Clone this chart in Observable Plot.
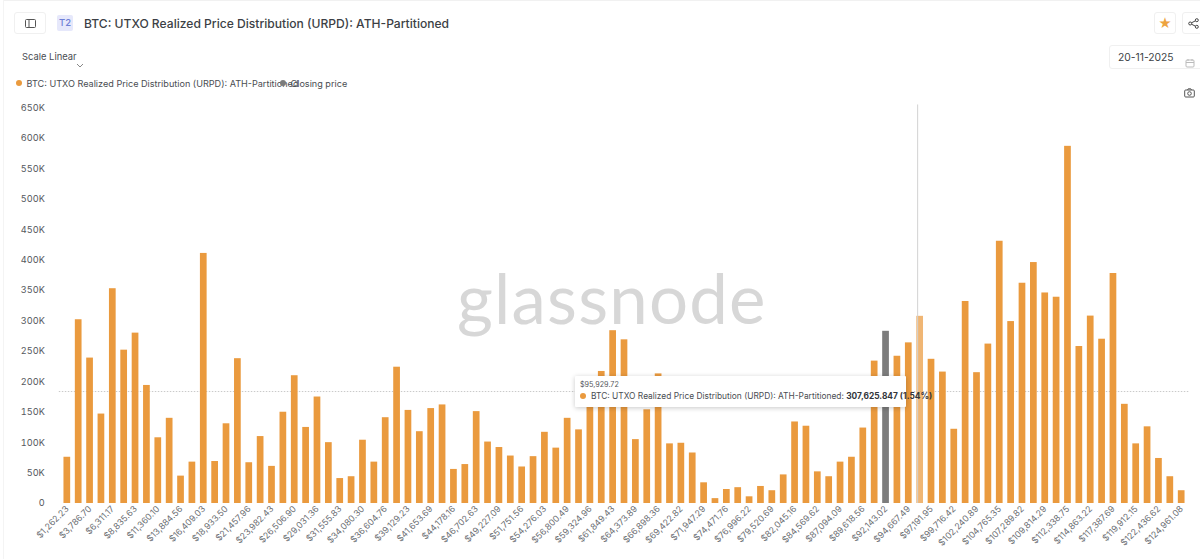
<!DOCTYPE html>
<html>
<head>
<meta charset="utf-8">
<script src="https://cdn.jsdelivr.net/npm/d3@7"></script>
<script src="https://cdn.jsdelivr.net/npm/@observablehq/plot@0.6"></script>
<style>
html,body{margin:0;padding:0;background:#fff;width:1200px;height:559px;overflow:hidden;font-family:Inter,"Noto Sans",sans-serif;color:#3c3f45}
#page{position:relative;width:1200px;height:559px}
#page>div{position:absolute;white-space:nowrap}
.btn{border:1px solid #f0f0f0;border-radius:3px;box-sizing:border-box;display:flex;align-items:center;justify-content:center;background:#fff}
#chart{left:0;top:95px}
#chart svg{display:block;background:transparent}
.dot{display:inline-block;width:6px;height:6px;border-radius:50%;vertical-align:1px;margin-right:2px}
</style>
</head>
<body>
<div id="page">
  <div style="left:3px;top:0;width:1197px;height:1px;background:#f1f1f1"></div>
  <div style="left:3px;top:0;width:1px;height:559px;background:#f4f4f4"></div>
  <div class="btn" style="left:14px;top:12px;width:32px;height:22px">
    <svg width="11" height="9" viewBox="0 0 11 9"><rect x=".5" y=".5" width="10" height="8" rx="1" fill="none" stroke="#555"/><path d="M4 .5v8" stroke="#555"/></svg>
  </div>
  <div style="left:57px;top:15px;width:16px;height:16px;background:#e6e8fb;border-radius:2px;color:#6f7fd6;font-size:9.5px;line-height:16px;text-align:center;font-weight:500">T2</div>
  <div style="left:84px;top:14.5px;font-size:12.1px;line-height:17px;font-weight:500;color:#3c3f45">BTC: UTXO Realized Price Distribution (URPD): ATH-Partitioned</div>
  <div style="left:22px;top:50px;font-size:9.4px;line-height:14px;color:#4a4d52">Scale Linear</div>
  <div style="left:76px;top:53px"><svg width="8" height="6" viewBox="0 0 8 6"><path d="M1 1l3 3 3-3" fill="none" stroke="#888"/></svg></div>
  <div style="left:16px;top:77px;font-size:9.1px;line-height:14px;color:#4a4d52"><span class="dot" style="background:#ea9a3e"></span> BTC: UTXO Realized Price Distribution (URPD): ATH-Partitioned</div>
  <div style="left:280px;top:77px;font-size:9.1px;line-height:14px;color:#4a4d52"><span class="dot" style="background:#7c7c7c"></span> Closing price</div>
  <div class="btn" style="left:1154px;top:12px;width:22px;height:22px;color:#eda33f;font-size:13px;line-height:22px">★</div>
  <div class="btn" style="left:1182px;top:12px;width:22px;height:22px">
    <svg width="11" height="11" viewBox="0 0 11 11"><circle cx="2.2" cy="5.5" r="1.5" fill="none" stroke="#444"/><circle cx="8.8" cy="2.2" r="1.5" fill="none" stroke="#444"/><circle cx="8.8" cy="8.8" r="1.5" fill="none" stroke="#444"/><path d="M3.5 4.8l4-2M3.5 6.2l4 2" stroke="#444"/></svg>
  </div>
  <div class="btn" style="left:1109px;top:45px;width:95px;height:24px;justify-content:flex-start;padding-left:8px;font-size:10.3px;color:#3c3f45">20-11-2025</div>
  <div style="left:1185px;top:52px"><svg width="10" height="10" viewBox="0 0 10 10"><rect x="1" y="2" width="8" height="7" rx="1" fill="none" stroke="#bbb"/><path d="M1 4.5h8M3 1v2M7 1v2" stroke="#bbb"/></svg></div>
  <div style="left:1184px;top:82px"><svg width="11" height="10" viewBox="0 0 11 10"><rect x=".7" y="2" width="9.6" height="7" rx="1" fill="none" stroke="#555"/><circle cx="5.5" cy="5.5" r="1.8" fill="none" stroke="#555"/><path d="M3.5 2l.7-1.2h2.6L7.5 2" fill="none" stroke="#555"/></svg></div>

  <div id="chart"></div>

  <div style="left:457px;top:258px;font-family:Lato,Inter,sans-serif;font-size:69px;line-height:80px;color:rgba(205,205,205,.8);letter-spacing:1.2px;pointer-events:none">glassnode</div>

  <div style="left:575px;top:376px;width:331px;height:31px;background:#fff;box-shadow:0 1px 5px rgba(0,0,0,.22);border-radius:1px">
    <div style="position:absolute;left:5px;top:4px;font-size:7.2px;line-height:10px;color:#55585d">$95,929.72</div>
    <div style="position:absolute;left:5px;top:14px;font-size:8.4px;line-height:12px;color:#4a4d52;white-space:nowrap"><span class="dot" style="background:#ea9a3e;margin-right:5px;vertical-align:0"></span>BTC: UTXO Realized Price Distribution (URPD): ATH-Partitioned: <b style="color:#33363b;font-weight:700">307,625.847 (1.54%)</b></div>
  </div>
</div>
<script>
// Price bucket labels (x categories), lowest bucket upward
const priceLabels = [
"$1,262.23","$2,524.47","$3,786.70","$5,048.93","$6,311.17","$7,573.40","$8,835.63","$10,097.87","$11,360.10","$12,622.33",
"$13,884.56","$15,146.80","$16,409.03","$17,671.26","$18,933.50","$20,195.73","$21,457.96","$22,720.20","$23,982.43","$25,244.66",
"$26,506.90","$27,769.13","$29,031.36","$30,293.60","$31,555.83","$32,818.06","$34,080.30","$35,342.53","$36,604.76","$37,867.00",
"$39,129.23","$40,391.46","$41,653.69","$42,915.93","$44,178.16","$45,440.39","$46,702.63","$47,964.86","$49,227.09","$50,489.33",
"$51,751.56","$53,013.79","$54,276.03","$55,538.26","$56,800.49","$58,062.73","$59,324.96","$60,587.19","$61,849.43","$63,111.66",
"$64,373.89","$65,636.13","$66,898.36","$68,160.59","$69,422.82","$70,685.06","$71,947.29","$73,209.52","$74,471.76","$75,733.99",
"$76,996.22","$78,258.46","$79,520.69","$80,782.92","$82,045.16","$83,307.39","$84,569.62","$85,831.86","$87,094.09","$88,356.32",
"$89,618.56","$90,880.79","$92,143.02","$93,405.25","$94,667.49","$95,929.72","$97,191.95","$98,454.19","$99,716.42","$100,978.65",
"$102,240.89","$103,503.12","$104,765.35","$106,027.59","$107,289.82","$108,552.05","$109,814.29","$111,076.52","$112,338.75","$113,600.99",
"$114,863.22","$116,125.45","$117,387.69","$118,649.92","$119,912.15","$121,174.38","$122,436.62","$123,698.85","$124,961.08"];

// Supply per bucket
const supply = [
76000,302000,239000,147000,353000,252000,280000,194000,108000,140000,
45000,68000,411000,69000,131000,238000,67000,110000,61000,150000,
210000,125000,175000,100000,41000,44000,104000,68000,141000,224000,
153000,118000,156000,162000,56000,64000,151000,101000,92000,78000,
60000,77000,117000,91000,140000,121000,165000,217000,284000,269000,
105000,154000,213000,98000,99000,83000,34000,8000,23000,26000,
11000,28000,21000,47000,134000,127000,52000,44000,68000,76000,
124000,234000,283000,242000,264000,307626,237000,216000,122000,332000,
215000,262000,431000,299000,362000,396000,346000,339000,587000,258000,
308000,270000,378000,163000,98000,126000,74000,44000,21000];

const tickLabels = priceLabels.filter((_, i) => i % 2 === 0);
const yTicks = [0,50000,100000,150000,200000,250000,300000,350000,400000,450000,500000,550000,600000,650000];
const seriesNames = ["BTC: UTXO Realized Price Distribution (URPD): ATH-Partitioned","Closing price"];
const closingBucket = "$92,143.02";
const hoveredBucket = "$95,929.72";
const crosshairValue = 184000;

const table = priceLabels.map((price, i) => ({
  price, value: supply[i],
  series: price === closingBucket ? seriesNames[1] : seriesNames[0],
  alpha: price === hoveredBucket ? 0.72 : 1
}));

const plot = Plot.plot({
  width: 1200, height: 464,
  marginTop: 12.5, marginBottom: 56, marginLeft: 58.8, marginRight: 10.8,
  style: {background: "transparent", fontFamily: "Inter, sans-serif"},
  x: {type: "band", domain: priceLabels, padding: 0.41, align: 0.5},
  y: {domain: [0, 650000]},
  color: {domain: seriesNames, range: ["#ea9a3e", "#7c7c7c"]},
  marks: [
    Plot.gridY(yTicks, {stroke: "#f0f0f0", strokeOpacity: 1, x1: 48, x2: 1190}),
    Plot.ruleY([crosshairValue], {stroke: "#c9c9c9", strokeDasharray: "1.5,1.5", strokeWidth: 1}),
    Plot.barY(table, {x: "price", y: "value", fill: "series", fillOpacity: "alpha"}),
    Plot.ruleX([hoveredBucket], {stroke: "#d2d2d2", strokeWidth: 1, dx: -2.5, y1: 0, y2: 655000}),
    Plot.axisY({ticks: yTicks, tickFormat: d => d === 0 ? "0" : (d / 1000) + "K", tickSize: 0, tickPadding: 0, dx: -14.5, label: null, color: "#55585d", fontSize: 9.2, anchor: "left"}),
    Plot.axisX({ticks: tickLabels, tickSize: 0, tickPadding: 4, tickRotate: -45, label: null, color: "#6a6d72", fontSize: 8.8, anchor: "bottom"})
  ]
});
document.getElementById("chart").appendChild(plot);
</script>
</body>
</html>
